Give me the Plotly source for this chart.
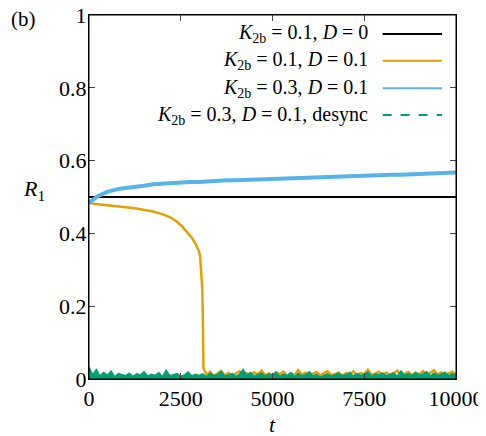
import plotly.graph_objects as go

# time grids
t_black = [0, 10000]
t_blue = [0, 250, 500, 750, 1000, 1250, 1500, 1750, 2000, 2250,
          2500, 2750, 3000, 3250, 3500, 3750, 4000, 4250, 4500, 4750,
          5000, 5250, 5500, 5750, 6000, 6250, 6500, 6750, 7000, 7250,
          7500, 7750, 8000, 8250, 8500, 8750, 9000, 9250, 9500, 9750, 10000]
t_orange_fall = [0, 100, 250, 500, 750, 1000, 1250, 1500, 1750, 2000,
                 2200, 2400, 2550, 2700, 2800, 2900, 2950, 3000, 3030, 3060,
                 3085, 3100, 3110, 3120]
t_noise = [0, 100, 200, 300, 400, 500, 600, 700, 800, 900,
           1000, 1100, 1200, 1300, 1400, 1500, 1600, 1700, 1800, 1900,
           2000, 2100, 2200, 2300, 2400, 2500, 2600, 2700, 2800, 2900,
           3000, 3100, 3200, 3300, 3400, 3500, 3600, 3700, 3800, 3900,
           4000, 4100, 4200, 4300, 4400, 4500, 4600, 4700, 4800, 4900,
           5000, 5100, 5200, 5300, 5400, 5500, 5600, 5700, 5800, 5900,
           6000, 6100, 6200, 6300, 6400, 6500, 6600, 6700, 6800, 6900,
           7000, 7100, 7200, 7300, 7400, 7500, 7600, 7700, 7800, 7900,
           8000, 8100, 8200, 8300, 8400, 8500, 8600, 8700, 8800, 8900,
           9000, 9100, 9200, 9300, 9400, 9500, 9600, 9700, 9800, 9900, 10000]

# R1 values
r_black = [0.5, 0.5]
r_blue = [0.484, 0.503, 0.514, 0.521, 0.525, 0.527, 0.531, 0.535, 0.537, 0.539,
          0.540, 0.541, 0.541, 0.543, 0.544, 0.546, 0.546, 0.547, 0.548, 0.549,
          0.550, 0.551, 0.552, 0.553, 0.554, 0.554, 0.555, 0.556, 0.557, 0.557,
          0.558, 0.559, 0.560, 0.561, 0.561, 0.562, 0.563, 0.564, 0.565, 0.566, 0.567]
r_orange_fall = [0.485, 0.482, 0.480, 0.478, 0.475, 0.472, 0.469, 0.465, 0.460, 0.453,
                 0.445, 0.432, 0.418, 0.400, 0.388, 0.372, 0.362, 0.350, 0.335, 0.300,
                 0.250, 0.180, 0.100, 0.030]
# orange after the drop, on t_noise from 3200 on
r_orange_noise = [0.012, 0.020, 0.008, 0.015, 0.022, 0.010, 0.017, 0.009, 0.014,
                  0.021, 0.011, 0.016, 0.008, 0.019, 0.012, 0.023, 0.010, 0.015, 0.009, 0.018,
                  0.013, 0.020, 0.008, 0.016, 0.011, 0.024, 0.012, 0.017, 0.009, 0.014,
                  0.019, 0.010, 0.015, 0.022, 0.011, 0.013, 0.018, 0.009, 0.016, 0.012,
                  0.021, 0.010, 0.017, 0.013, 0.025, 0.011, 0.015, 0.020, 0.009, 0.018,
                  0.012, 0.016, 0.023, 0.010, 0.014, 0.019, 0.011, 0.017, 0.013, 0.022,
                  0.010, 0.016, 0.024, 0.012, 0.018, 0.011, 0.015, 0.020, 0.013]
r_green = [0.032, 0.012, 0.026, 0.008, 0.018, 0.010, 0.022, 0.006, 0.015, 0.012,
           0.009, 0.016, 0.007, 0.014, 0.011, 0.020, 0.008, 0.013, 0.010, 0.017,
           0.006, 0.024, 0.009, 0.012, 0.015, 0.007, 0.011, 0.019, 0.008, 0.013,
           0.010, 0.014, 0.006, 0.016, 0.009, 0.012, 0.021, 0.008, 0.011, 0.015,
           0.007, 0.013, 0.026, 0.010, 0.018, 0.009, 0.012, 0.016, 0.008, 0.014,
           0.011, 0.019, 0.007, 0.013, 0.010, 0.017, 0.006, 0.015, 0.009, 0.012,
           0.020, 0.008, 0.013, 0.005, 0.010, 0.014, 0.007, 0.011, 0.016, 0.009,
           0.012, 0.018, 0.008, 0.015, 0.010, 0.013, 0.019, 0.007, 0.014, 0.011,
           0.017, 0.009, 0.012, 0.016, 0.008, 0.022, 0.010, 0.015, 0.009, 0.018,
           0.011, 0.014, 0.020, 0.008, 0.016, 0.010, 0.013, 0.019, 0.009, 0.015, 0.011]

labels = ["<i>K</i><sub>2b</sub> = 0.1, <i>D</i> = 0",
          "<i>K</i><sub>2b</sub> = 0.1, <i>D</i> = 0.1",
          "<i>K</i><sub>2b</sub> = 0.3, <i>D</i> = 0.1",
          "<i>K</i><sub>2b</sub> = 0.3, <i>D</i> = 0.1, desync"]
colors = ["#000000", "#E69F00", "#56B4E9", "#009E73"]
dashes = ["solid", "solid", "solid", "dash"]

FONT = "Liberation Serif"

t_orange = t_orange_fall + t_noise[32:]
r_orange = r_orange_fall + r_orange_noise

fig = go.Figure()
fig.add_trace(go.Scatter(x=t_black, y=r_black, mode="lines",
                         line=dict(color=colors[0], width=2)))
fig.add_trace(go.Scatter(x=t_orange, y=r_orange, mode="lines",
                         line=dict(color=colors[1], width=2.5)))
fig.add_trace(go.Scatter(x=t_blue, y=r_blue, mode="lines",
                         line=dict(color=colors[2], width=4)))
fig.add_trace(go.Scatter(x=t_noise, y=r_green, mode="lines", fill="tozeroy",
                         fillcolor=colors[3], line=dict(color=colors[3], width=1.5)))

# gnuplot style key: text on the left, sample on the right
key_y = [0.948, 0.874, 0.799, 0.725]
for lab, col, dsh, ky in zip(labels, colors, dashes, key_y):
    fig.add_annotation(x=0.765, y=ky, xref="paper", yref="paper", text=lab,
                       showarrow=False, xanchor="right", yanchor="middle",
                       font=dict(family=FONT, size=20, color="black"))
    fig.add_shape(type="line", xref="paper", yref="paper", x0=0.80, x1=0.962,
                  y0=ky, y1=ky, line=dict(color=col, width=2, dash=dsh))

# frame round the plot area
fig.add_shape(type="rect", xref="paper", yref="paper", x0=0, x1=1, y0=0, y1=1,
              line=dict(color="black", width=1), layer="above")

fig.add_annotation(x=-0.185, y=0.52, xref="paper", yref="paper",
                   text="<i>R</i><sub>1</sub>", showarrow=False,
                   font=dict(family=FONT, size=22, color="black"))
fig.add_annotation(x=0.5, y=-0.125, xref="paper", yref="paper",
                   text="<i>t</i>", showarrow=False, yanchor="middle",
                   font=dict(family=FONT, size=22, color="black"))
fig.add_annotation(x=-0.218, y=0.99, xref="paper", yref="paper",
                   text="(b)", showarrow=False, xanchor="left", yanchor="middle",
                   font=dict(family=FONT, size=21, color="black"))

fig.update_xaxes(range=[0, 10000], tickvals=[0, 2500, 5000, 7500, 10000],
                 tickformat="d", ticks="inside", ticklen=6, mirror="ticks",
                 showline=True, linecolor="black", linewidth=1, showgrid=False,
                 zeroline=False, automargin=False,
                 tickfont=dict(family=FONT, size=22, color="black"))
fig.update_yaxes(range=[0, 1], tickvals=[0, 0.2, 0.4, 0.6, 0.8, 1],
                 ticks="inside", ticklen=6, mirror="ticks", showline=True,
                 linecolor="black", linewidth=1, showgrid=False, zeroline=False,
                 automargin=False, ticklabelstandoff=-3, ticklabeloverflow="allow",
                 tickfont=dict(family=FONT, size=22, color="black"))
# the page puts the figure 8px in from the top-left corner
fig.update_layout(width=478, height=428, showlegend=False,
                  plot_bgcolor="white", paper_bgcolor="white",
                  margin=dict(l=81, r=30, t=7, b=57, autoexpand=False))

fig.write_html("out.html")
